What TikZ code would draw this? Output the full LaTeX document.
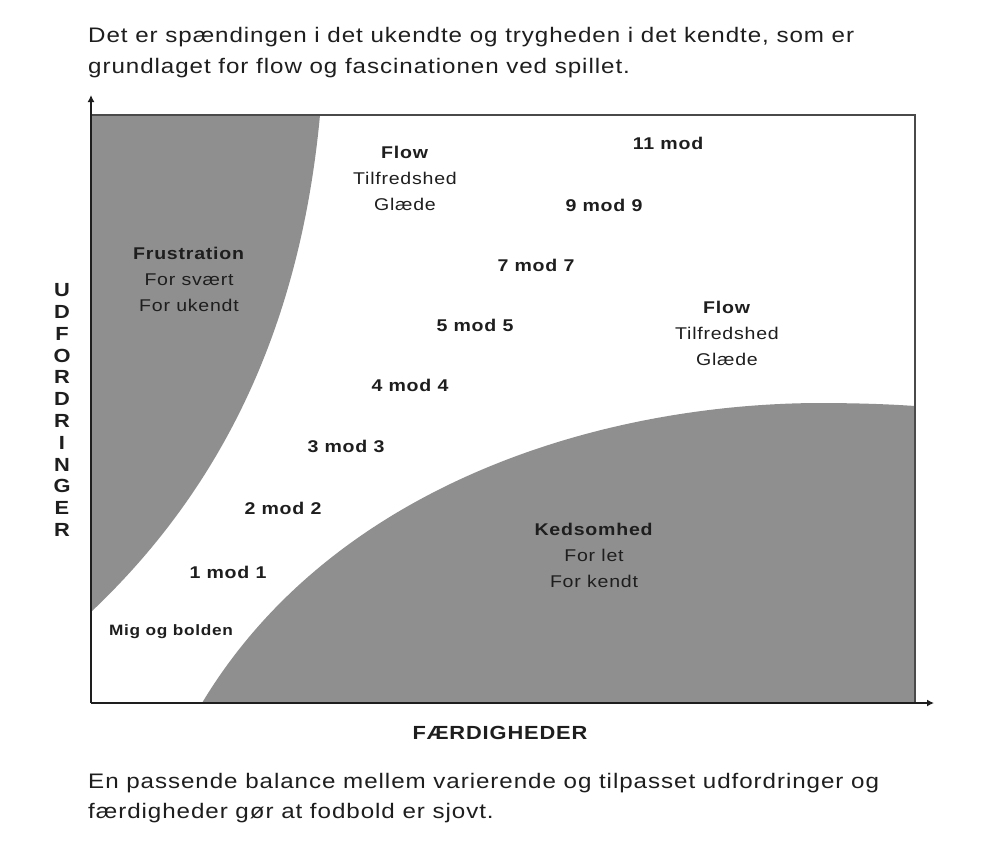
\documentclass[tikz,border=0pt]{standalone}
\usepackage{fontspec}
\setmainfont{Liberation Sans}[FakeStretch=1.15, LetterSpace=4.5]
\usetikzlibrary{arrows.meta}
\definecolor{regiongray}{HTML}{8F8F8F}
\definecolor{inkdark}{HTML}{1E1E1E}
\definecolor{framegray}{HTML}{4A4A4A}
\tikzset{
  caption/.style={anchor=west, inner sep=0pt, font=\fontsize{21}{23}\selectfont, text=inkdark},
  lbl/.style={inner sep=0pt, font=\fontsize{17}{26}\selectfont, text=inkdark, align=center},
  blbl/.style={lbl, font=\fontsize{17}{26}\selectfont\bfseries},
  axislbl/.style={inner sep=0pt, font=\fontsize{19}{21.8}\selectfont\bfseries, text=inkdark, align=center},
  region/.style={fill=regiongray, draw=none},
  frame/.style={draw=framegray, line width=2.5pt},
  axis/.style={draw=inkdark, line width=2.5pt, -{Latex[length=7pt,width=7pt]}}
}
\begin{document}
\begin{tikzpicture}[x=1pt,y=-1pt]
\useasboundingbox (0,0) rectangle (990,855);
\fill[white] (0,0) rectangle (990,855);
% regions
\path[region] (91,115) -- (320,115) .. controls (300,330) and (220,490) .. (91,612) -- cycle;
\path[region] (202,703) .. controls (330,490) and (590,405) .. (815,403) .. controls (870,403) and (900,405) .. (915,406) -- (915,703) -- cycle;
% frame
\coordinate (O) at (91,703);
\coordinate (TL) at (91,115);
\coordinate (TR) at (915,115);
\coordinate (BR) at (915,703);
\coordinate (Ytop) at (91,95);
\coordinate (Xend) at (934,703);
\draw[frame] (TL) -- (TR) -- (BR);
\draw[axis] (O) -- (Ytop);
\draw[axis] (O) -- (Xend);
% captions
\node[caption] (t1) at (88,37) {Det er spændingen i det ukendte og trygheden i det kendte, som er};
\node[caption] (t2) at (88,68) {grundlaget for flow og fascinationen ved spillet.};
\node[caption] (b1) at (88,783) {En passende balance mellem varierende og tilpasset udfordringer og};
\node[caption] (b2) at (88,813) {færdigheder gør at fodbold er sjovt.};
% axis labels
\node[axislbl] (xl) at (500,733) {FÆRDIGHEDER};
\node[axislbl] (yl) at (62,410) {U\\D\\F\\O\\R\\D\\R\\I\\N\\G\\E\\R};
% region labels
\node[lbl] (flow1) at (405,178) {\textbf{Flow}\\Tilfredshed\\Glæde};
\node[lbl] (flow2) at (727,333) {\textbf{Flow}\\Tilfredshed\\Glæde};
\node[lbl] (frus) at (189,279) {\textbf{Frustration}\\For svært\\For ukendt};
\node[lbl] (keds) at (594,555) {\textbf{Kedsomhed}\\For let\\For kendt};
% steps
\node[blbl] (m11) at (668,143) {11 mod};
\node[blbl] (m9) at (604,205) {9 mod 9};
\node[blbl] (m7) at (536,265) {7 mod 7};
\node[blbl] (m5) at (475,325) {5 mod 5};
\node[blbl] (m4) at (410,385) {4 mod 4};
\node[blbl] (m3) at (346,446) {3 mod 3};
\node[blbl] (m2) at (283,508) {2 mod 2};
\node[blbl] (m1) at (228,572) {1 mod 1};
\node[blbl, font=\fontsize{15}{26}\selectfont\bfseries] (mig) at (171,632) {Mig og bolden};
\end{tikzpicture}
\end{document}
